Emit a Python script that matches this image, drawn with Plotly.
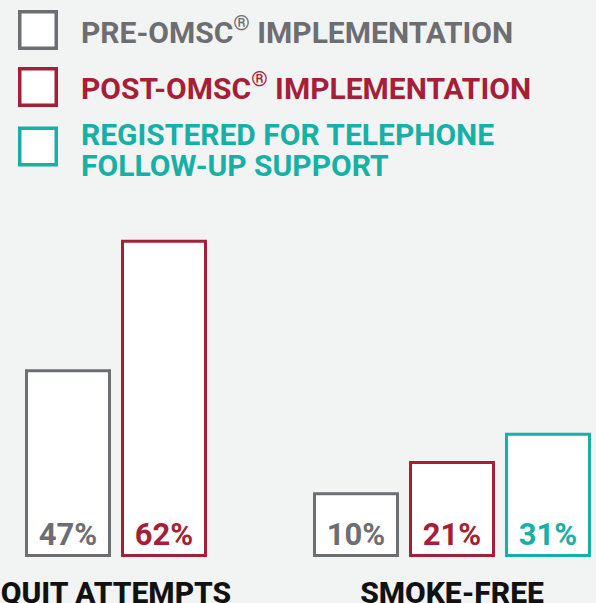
import plotly.graph_objects as go

# ---------------- data ----------------
groups = ["QUIT ATTEMPTS", "SMOKE-FREE"]
series = ["PRE-OMSC® IMPLEMENTATION", "POST-OMSC® IMPLEMENTATION",
          "REGISTERED FOR TELEPHONE\nFOLLOW-UP SUPPORT"]
quit_values = [47, 62]            # pre, post
smoke_values = [10, 21, 31]       # pre, post, telephone

# ---------------- style ----------------
W, H = 596, 603
BG = "#f2f3f3"
COLORS = ["#6d6e71", "#a51f38", "#17b0a6"]
FONT = "Roboto"

def fx(px):
    return px / W

def fy(py):
    return 1 - py / H

# plot area (pixels)
PLOT_TOP, PLOT_BOTTOM = 220, 560
ydom = [fy(PLOT_BOTTOM), fy(PLOT_TOP)]

# axis floors / ranges for each group (infographic-style truncated axes)
quit_floor, quit_range = 25.6, [25.08, 64.45]
smoke_floor, smoke_range = -11.86, [-13.45, 106.8]

fig = go.Figure()

def add_group(values, floor, xa, ya, cat):
    for i, v in enumerate(values):
        fig.add_trace(go.Bar(
            x=[cat], y=[v - floor], base=[floor],
            xaxis=xa, yaxis=ya,
            marker=dict(color="white", line=dict(color=COLORS[i], width=3)),
            text=[f"{v}%"], textposition="inside", insidetextanchor="start",
            textangle=0, constraintext="none",
            textfont=dict(family=FONT, size=31, weight=700, color=COLORS[i]),
            showlegend=False, hoverinfo="skip",
        ))

add_group(quit_values, quit_floor, "x", "y", groups[0])
add_group(smoke_values, smoke_floor, "x2", "y2", groups[1])

axis_common = dict(showgrid=False, zeroline=False, showline=False, ticks="",
                   automargin=False, ticklabelstandoff=12,
                   tickfont=dict(family=FONT, size=30, weight=800, color="#111111"))
fig.update_layout(
    width=W, height=H,
    margin=dict(l=0, r=0, t=0, b=0, pad=0, autoexpand=False),
    paper_bgcolor=BG, plot_bgcolor=BG,
    barmode="group", bargap=0, bargroupgap=13 / 96,
    showlegend=False,
    xaxis=dict(domain=[fx(20), fx(212)], anchor="y", type="category",
               range=[-0.5, 0.5], **axis_common),
    yaxis=dict(domain=ydom, anchor="x", range=quit_range, visible=False,
               automargin=False),
    xaxis2=dict(domain=[fx(308), fx(596)], anchor="y2", type="category",
                range=[-0.5, 0.5], **axis_common),
    yaxis2=dict(domain=ydom, anchor="x2", range=smoke_range, visible=False,
                automargin=False),
)

# ---------------- custom legend ----------------
box_centers = [30, 87, 146.5]
line_centers = [[30.7], [86.5], [134, 165.5]]
for i, name in enumerate(series):
    c = box_centers[i]
    fig.add_shape(type="rect", xref="paper", yref="paper",
                  x0=fx(19.75), x1=fx(56.25), y0=fy(c + 18.25), y1=fy(c - 18.25),
                  fillcolor="white", line=dict(color=COLORS[i], width=3.5))
    for line_text, yc in zip(name.split("\n"), line_centers[i]):
        fig.add_annotation(
            xref="paper", yref="paper", x=fx(79), y=fy(yc),
            xanchor="left", yanchor="middle", showarrow=False,
            text=line_text.replace("®", "<sup>®</sup>"),
            font=dict(family=FONT, size=30, weight=700, color=COLORS[i]),
        )

fig.write_html("out.html",
               config={"displayModeBar": False, "staticPlot": True},
               post_script="document.body.style.margin='0';"
                           "document.body.style.overflow='hidden';")
